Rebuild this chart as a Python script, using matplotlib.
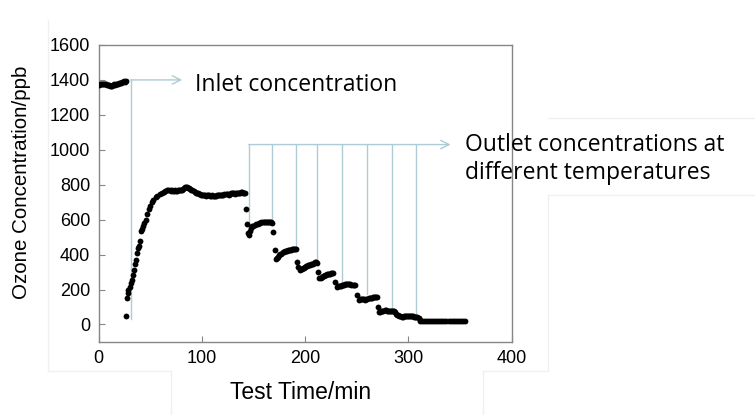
import matplotlib
matplotlib.use("Agg")
import matplotlib.pyplot as plt
from matplotlib.lines import Line2D

# ---- data (time in min, ozone in ppb) ----
inlet_t = [0, 1, 2, 3, 4, 5, 6, 7, 8, 9, 10, 11, 12, 13, 14, 15, 16, 17, 18, 19,
           20, 21, 22, 23, 24, 25, 26, 26.6]
inlet_c = [1372, 1375, 1378, 1376, 1374, 1377, 1379, 1376, 1373, 1371, 1369, 1367,
           1365, 1368, 1371, 1374, 1372, 1376, 1379, 1377, 1381, 1384, 1383, 1387,
           1390, 1393, 1390, 1396]

rise_t = [27.0, 27.5, 28.3, 29.0, 30.1, 31.0, 32.0, 33.0, 34.0, 35.0, 35.9, 36.9,
          37.9, 38.8, 39.8, 40.8, 41.8, 42.7, 44.0, 45.6, 47.0, 48.5, 50.0, 51.5,
          53.0, 55.3, 57.0, 59.2, 61.0, 63.0, 64.1, 66.0, 67.5]
rise_c = [46, 152, 180, 200, 216, 235, 254, 285, 312, 345, 370, 410, 440, 450, 476,
          534, 548, 563, 580, 601, 630, 659, 680, 700, 715, 728, 735, 746, 752, 760,
          765, 770, 768]

plat_t = [69, 70, 71, 72, 73, 74, 75, 76, 77, 78, 79, 80, 81, 82, 83, 84, 85, 86, 87,
          88, 89, 90, 91, 92, 93, 94, 95, 96, 97, 98, 99, 100, 101, 102, 103, 104,
          105, 106, 107, 108, 109, 110, 111, 112, 113, 114, 115, 116, 117, 118, 119,
          120, 121, 122, 123, 124, 125, 126, 127, 128, 129, 130, 131, 132, 133, 134,
          135, 136, 137, 138, 139, 140, 141, 141.7]
plat_c = [772, 766, 768, 763, 765, 770, 766, 765, 768, 772, 769, 768, 772, 778, 782,
          785, 788, 786, 782, 780, 776, 772, 768, 765, 760, 755, 752, 750, 747, 745,
          743, 742, 741, 740, 739, 738, 740, 742, 739, 736, 738, 740, 737, 735, 736,
          738, 739, 740, 741, 742, 741, 740, 742, 745, 746, 746, 745, 744, 747, 750,
          751, 752, 750, 748, 751, 755, 754, 752, 755, 758, 756, 754, 753, 752]

step_t = [142.4, 143.7, 144.4, 145.6, 146.6, 147.6, 149, 150, 151.5, 153, 154, 155,
          156.3, 157.5, 159, 160, 161, 162, 163, 164, 165, 166, 167, 168, 169.2,
          170.9, 171.8, 172.8, 173.8, 175, 176, 177, 178.6, 179.5, 180.5, 181.5,
          182.5, 183.5, 184.5, 185.4, 186.5, 187.5, 188.5, 189.5, 190.5, 191.3,
          192.2, 193.5, 195.1, 196.5, 197.5, 198, 199, 200, 201, 202, 203, 204, 204.9,
          206, 207, 208, 209, 210, 210.7, 211.7,
          212.6, 213.6, 215, 216.5, 217.5, 218.5, 219.5, 220.5, 221.4, 222.5, 223.5,
          224.5, 225.5, 226.5, 227.2,
          229, 231, 232, 233, 234, 235, 236, 237, 238, 239, 240, 241, 242, 243, 244,
          245, 246, 247, 248.5,
          250.5, 252.4, 253.5, 254.5, 255.5, 256.5, 257.5, 258.3, 259.5, 260.5, 261.5,
          262.5, 263.5, 264.5, 265.5, 266.5, 267.5, 268.5, 269.3,
          270.3, 271.8, 273, 274, 275, 276, 277, 278.6, 279.5, 280.5, 281.5, 282.5,
          283.5, 284.5, 285.4, 286.5, 287.3, 288.3, 289.3, 290.3, 291.2, 292.2,
          293.5, 294.5, 295.5, 296.5, 297.5, 298.5, 299.5, 300.5, 301.5, 302.5, 303.5,
          304.5, 305.5, 306.5, 307.5, 308.7, 310, 311.2, 311.7]
step_c = [663, 576, 524, 514, 535, 553, 562, 566, 572, 575, 578, 580, 583, 584, 584,
          585, 586, 587, 588, 586, 584, 585, 586, 582, 530,
          428, 374, 382, 389, 398, 402, 406, 413, 416, 418, 420, 422, 424, 426, 428,
          429, 430, 431, 432, 433, 434,
          355, 330, 312, 318, 320, 322, 326, 330, 333, 336, 338, 340, 341, 344, 347,
          349, 352, 355, 358, 351,
          302, 264, 268, 274, 277, 280, 283, 285, 287, 289, 290, 291, 292, 293, 293,
          241, 216, 218, 220, 222, 223, 226, 227, 228, 229, 230, 230, 230, 231, 230,
          228, 227, 227, 226,
          168, 143, 145, 146, 146, 145, 144, 143, 146, 148, 150, 151, 152, 154, 155,
          157, 158, 160, 158,
          100, 71, 73, 75, 78, 80, 81, 81, 80, 80, 79, 79, 78, 78, 77, 75, 70, 62, 57,
          52, 48, 46, 45, 45, 46, 46, 47, 47, 48, 48, 48, 47, 46, 46, 45, 44, 43, 42,
          35, 27, 22]

tail_t = [313, 315, 317, 319, 321, 323, 325, 327, 329, 331, 333, 335, 337, 339, 341,
          343, 345, 347, 349, 351, 353, 355]
tail_c = [20, 20, 21, 20, 21, 20, 21, 21, 20, 21, 21, 20, 21, 20, 21, 21, 20, 21, 21,
          21, 22, 22]

# annotation guide lines
inlet_line_x = 31
inlet_line_bottom = 30
inlet_line_top = 1400
inlet_arrow_end = 81
outlet_lines_x = [145.6, 167.6, 191.3, 212.0, 236.2, 259.9, 284.2, 307.8]
outlet_lines_bottom = [575, 580, 435, 355, 235, 175, 85, 50]
outlet_line_top = 1030
outlet_arrow_end = 341

x_ticks = [0, 100, 200, 300, 400]
y_ticks = [0, 200, 400, 600, 800, 1000, 1200, 1400, 1600]

# ---- figure ----
fig = plt.figure(figsize=(7.55, 4.15), dpi=100)
fig.patch.set_facecolor("white")

# faint background boxes (slide artefacts)
faint = "#f0f0f0"
for xs, ys in [([48, 48], [20, 371]), ([48, 171], [371, 371]), ([171, 171], [371, 415]),
               ([483, 483], [371, 415]), ([483, 548], [371, 371]),
               ([548, 755], [118, 118]), ([548, 755], [195, 195]),
               ([548, 548], [195, 371])]:
    fig.add_artist(Line2D([x / 755 for x in xs], [1 - y / 415 for y in ys],
                          color=faint, lw=1.0, zorder=0))

ax = fig.add_axes([0.1305, 0.176, 0.547, 0.7156])
ax.set_xlim(0, 400)
ax.set_ylim(-100, 1600)

line_col = "#aecbd6"
# inlet guide
ax.plot([inlet_line_x, inlet_line_x], [inlet_line_bottom, inlet_line_top],
        color=line_col, lw=1.0, zorder=1)
ax.annotate("", xy=(inlet_arrow_end, inlet_line_top), xytext=(inlet_line_x, inlet_line_top),
            arrowprops=dict(arrowstyle="->,head_length=0.6,head_width=0.3",
                            color=line_col, lw=1.0, shrinkA=0, shrinkB=0), zorder=1)
# outlet guides
for x, b in zip(outlet_lines_x, outlet_lines_bottom):
    ax.plot([x, x], [b, outlet_line_top], color=line_col, lw=1.0, zorder=1)
ax.annotate("", xy=(outlet_arrow_end, outlet_line_top),
            xytext=(outlet_lines_x[0], outlet_line_top),
            arrowprops=dict(arrowstyle="->,head_length=0.6,head_width=0.3",
                            color=line_col, lw=1.0, shrinkA=0, shrinkB=0),
            annotation_clip=False, zorder=1)

for t, c in [(inlet_t, inlet_c), (rise_t, rise_c), (plat_t, plat_c),
             (step_t, step_c), (tail_t, tail_c)]:
    ax.plot(t, c, linestyle="none", marker="o", ms=4.2, color="black",
            markeredgewidth=0, zorder=3)

spine_col = "#868686"
for s in ax.spines.values():
    s.set_color(spine_col)
    s.set_linewidth(1.0)
ax.set_xticks(x_ticks)
ax.set_yticks(y_ticks)
ax.tick_params(direction="in", length=4, color=spine_col, labelsize=13,
               labelcolor="black", pad=6)
for lab in ax.get_xticklabels() + ax.get_yticklabels():
    lab.set_family("Liberation Sans")

fig.text(301 / 755, 1 - 392 / 415, "Test Time/min", ha="center",
         va="center", fontsize=16.5, family="Liberation Sans")
fig.text(22 / 755, 1 - 182 / 415, "Ozone Concentration/ppb", rotation=90,
         ha="center", va="center", fontsize=14.8, family="Liberation Sans")

fig.text(195 / 755, 1 - 85 / 415, "Inlet concentration", ha="left", va="center",
         fontsize=16.5, family="Open Sans")
fig.text(465 / 755, 1 - 145 / 415, "Outlet concentrations at", ha="left",
         va="center", fontsize=16.5, family="Open Sans")
fig.text(465 / 755, 1 - 173 / 415, "different temperatures", ha="left",
         va="center", fontsize=16.5, family="Open Sans")

fig.savefig("out.png", dpi=100, facecolor="white")
